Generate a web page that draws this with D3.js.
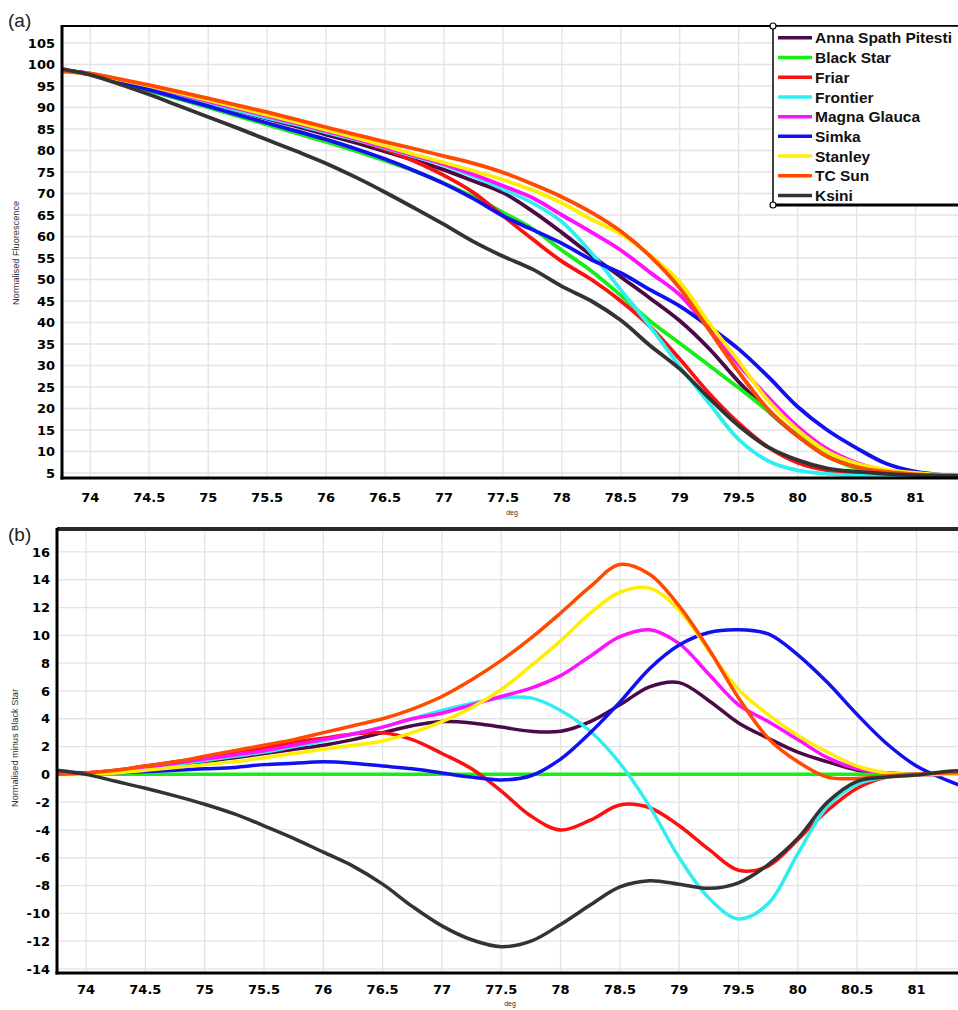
<!DOCTYPE html>
<html><head><meta charset="utf-8">
<script src="https://cdn.jsdelivr.net/npm/d3@7"></script>
<style>body{margin:0;background:#fff;} svg{display:block;}</style>
</head><body><svg id="c" width="958" height="1010"></svg>
<script>
// ---------- data ----------
const temps = [73.75,74,74.25,74.5,74.75,75,75.25,75.5,75.75,76,76.25,76.5,76.75,77,77.25,77.5,77.75,78,78.25,78.5,78.75,79,79.25,79.5,79.75,80,80.25,80.5,80.75,81,81.25,81.5];
const seriesNames = ["Anna Spath Pitesti","Black Star","Friar","Frontier","Magna Glauca","Simka","Stanley","TC Sun","Ksini"];
const seriesColors = ["#4a0a48","#16ee16","#ff1010","#30eef0","#ff10ff","#1010f0","#ffee00","#ff4a00","#333333"];

// panel (a) normalised fluorescence
const annaA     = [98.8,97.8,96.2,94.5,92.8,91.0,89.2,87.4,85.6,83.7,81.8,79.8,77.7,75.5,72.9,70.2,65.9,60.9,55.6,50.6,45.6,40.4,33.9,26.2,19.4,13.6,8.9,6.4,5.2,4.7,4.4,4.3];
const blackStarA= [98.7,97.7,95.9,93.9,92.0,90.0,88.0,86.0,84.0,82.0,79.9,77.6,75.2,72.4,69.2,65.6,61.8,56.8,52.0,46.3,40.3,35.2,30.0,24.8,19.4,13.8,9.0,6.1,4.9,4.5,4.3,4.3];
const friarA    = [98.5,97.8,96.2,94.6,92.9,91.1,89.4,87.8,86.2,84.4,82.5,80.3,77.5,74.2,70.2,64.8,59.4,54.2,50.0,45.0,39.0,31.5,23.5,16.6,11.0,7.4,5.6,4.9,4.6,4.4,4.3,4.3];
const frontierA = [98.5,97.8,96.2,94.5,92.8,91.0,89.3,87.6,86.0,84.2,82.5,80.6,78.6,76.6,74.0,71.0,67.8,63.4,56.2,47.6,39.0,29.8,21.2,12.8,7.8,5.6,4.8,4.4,4.3,4.3,4.3,4.3];
const magnaA    = [98.6,97.9,96.4,94.8,93.2,91.4,89.7,88.0,86.3,84.5,82.7,80.8,78.8,76.8,74.4,71.8,69.0,65.0,61.0,56.8,51.6,46.4,38.4,30.2,22.6,15.8,10.6,7.4,5.6,4.8,4.4,4.3];
const simkaA    = [98.7,97.8,96.0,94.1,92.2,90.3,88.3,86.4,84.5,82.6,80.4,78.0,75.3,72.3,68.8,64.8,61.6,58.4,54.6,51.5,47.6,43.8,39.0,33.8,27.4,20.4,15.0,10.8,7.2,5.3,4.5,4.3];
const stanleyA  = [98.3,97.9,96.5,95.0,93.4,91.7,90.0,88.3,86.6,84.8,83.0,81.1,79.1,77.2,75.3,73.2,70.8,67.8,64.0,60.6,55.6,49.4,39.8,31.0,21.8,15.0,10.0,7.2,5.8,5.0,4.5,4.3];
const tcSunA    = [98.4,97.9,96.6,95.2,93.7,92.1,90.5,88.9,87.2,85.4,83.7,82.0,80.4,78.7,77.0,74.9,72.2,69.2,65.6,61.2,55.4,48.0,38.2,28.5,19.8,13.6,8.8,6.4,5.3,4.7,4.4,4.3];
const ksiniA    = [99.0,97.6,95.4,93.0,90.4,87.8,85.2,82.5,79.8,77.0,73.8,70.3,66.6,62.8,58.8,55.4,52.4,48.4,45.0,40.5,34.6,29.2,22.4,16.0,11.0,8.0,6.1,5.3,4.8,4.5,4.4,4.3];

// panel (b) normalised minus Black Star
const annaB     = [0.1,0.1,0.2,0.4,0.7,0.9,1.2,1.5,1.8,2.1,2.5,3.0,3.5,3.8,3.7,3.4,3.1,3.1,3.8,5.0,6.3,6.6,5.3,3.7,2.6,1.6,0.9,0.3,0.1,0.0,0.0,0.1];
const blackStarB= [0,0,0,0,0,0,0,0,0,0,0,0,0,0,0,0,0,0,0,0,0,0,0,0,0,0,0,0,0,0,0,0];
const friarB    = [0.0,0.1,0.3,0.6,0.9,1.2,1.6,1.9,2.3,2.6,2.9,3.0,2.5,1.5,0.4,-1.2,-3.0,-4.0,-3.3,-2.2,-2.4,-3.7,-5.4,-6.9,-6.6,-4.7,-2.6,-1.0,-0.2,0.0,0.1,0.1];
const frontierB = [0.0,0.05,0.2,0.4,0.7,1.0,1.3,1.6,2.0,2.4,2.9,3.4,4.0,4.6,5.1,5.5,5.5,4.6,3.1,0.8,-2.3,-6.0,-8.9,-10.4,-9.3,-5.7,-2.3,-0.7,-0.2,0.0,0.1,0.2];
const magnaB    = [0.0,0.1,0.2,0.5,0.8,1.1,1.4,1.7,2.1,2.5,2.9,3.4,4.0,4.4,5.0,5.6,6.2,7.1,8.5,9.9,10.4,9.4,7.2,5.0,3.8,2.5,1.2,0.4,0.1,0.0,0.0,0.1];
const simkaB    = [0.2,0.1,0.1,0.2,0.3,0.4,0.5,0.7,0.8,0.9,0.8,0.6,0.4,0.1,-0.2,-0.4,-0.1,1.1,3.0,5.2,7.6,9.3,10.2,10.4,10.1,8.6,6.6,4.3,2.2,0.6,-0.4,-1.2];
const stanleyB  = [0.0,0.0,0.1,0.3,0.5,0.7,0.9,1.2,1.5,1.8,2.1,2.4,3.0,3.8,4.8,6.1,7.8,9.6,11.6,13.1,13.4,11.8,8.9,6.1,4.3,2.8,1.6,0.6,0.1,0.0,0.0,0.1];
const tcSunB    = [0.0,0.1,0.3,0.6,0.9,1.3,1.7,2.1,2.5,3.0,3.5,4.0,4.7,5.6,6.8,8.2,9.8,11.6,13.5,15.1,14.4,12.1,9.0,5.5,2.6,0.9,-0.2,-0.3,-0.1,0.0,0.1,0.1];
const ksiniB    = [0.3,0.0,-0.5,-1.0,-1.55,-2.15,-2.85,-3.7,-4.6,-5.6,-6.6,-7.9,-9.5,-10.9,-11.9,-12.4,-12.0,-10.8,-9.4,-8.1,-7.65,-7.9,-8.2,-7.8,-6.5,-4.6,-2.0,-0.5,-0.2,-0.05,0.2,0.3];

const xTickValues = [74,74.5,75,75.5,76,76.5,77,77.5,78,78.5,79,79.5,80,80.5,81];
const xTickLabels = ["74","74.5","75","75.5","76","76.5","77","77.5","78","78.5","79","79.5","80","80.5","81"];
const yTicksA = [5,10,15,20,25,30,35,40,45,50,55,60,65,70,75,80,85,90,95,100,105];
const yTicksB = [-14,-12,-10,-8,-6,-4,-2,0,2,4,6,8,10,12,14,16];

const seriesA = [annaA,blackStarA,friarA,frontierA,magnaA,simkaA,stanleyA,tcSunA,ksiniA];
const seriesB = [annaB,blackStarB,friarB,frontierB,magnaB,simkaB,stanleyB,tcSunB,ksiniB];

// ---------- drawing ----------
const svg = d3.select("#c");
const W = 958;
const tickFont = "'DejaVu Sans', Verdana, sans-serif";
const labelFont = "'Liberation Sans', Arial, sans-serif";

function drawPanel(cfg){
  const x = d3.scaleLinear().domain(cfg.xDomain).range([cfg.left, W]);
  const y = d3.scaleLinear().domain(cfg.yDomain).range([cfg.bottom, cfg.top]);
  const g = svg.append("g");
  const clipId = "clip"+cfg.id;
  svg.append("defs").append("clipPath").attr("id", clipId)
    .append("rect").attr("x", cfg.left).attr("y", cfg.top).attr("width", W-cfg.left).attr("height", cfg.bottom-cfg.top);

  // grid
  const grid = g.append("g").attr("clip-path", `url(#${clipId})`);
  grid.selectAll("line.v").data(xTickValues).join("line")
    .attr("x1", d=>x(d)).attr("x2", d=>x(d)).attr("y1", cfg.top).attr("y2", cfg.bottom)
    .attr("stroke", "#e3e3e3").attr("stroke-width", 1.3);
  grid.selectAll("line.h").data(cfg.yTicks).join("line")
    .attr("x1", cfg.left).attr("x2", W).attr("y1", d=>y(d)).attr("y2", d=>y(d))
    .attr("stroke", "#e3e3e3").attr("stroke-width", 1.3);

  // lines
  const line = d3.line().x((d,i)=>x(temps[i])).y(d=>y(d)).curve(d3.curveCatmullRom.alpha(0.5));
  const lg = g.append("g").attr("clip-path", `url(#${clipId})`);
  cfg.series.forEach((s,i)=>{
    lg.append("path").attr("d", line(s)).attr("fill","none")
      .attr("stroke", seriesColors[i]).attr("stroke-width", cfg.lw)
      .attr("stroke-linejoin","round").attr("stroke-linecap","round");
  });

  // frame
  g.append("line").attr("x1", cfg.left).attr("x2", W).attr("y1", cfg.top).attr("y2", cfg.top)
    .attr("stroke", cfg.topColor).attr("stroke-width", cfg.topWidth);
  g.append("line").attr("x1", cfg.left).attr("x2", cfg.left).attr("y1", cfg.top-1).attr("y2", cfg.bottom+1.5)
    .attr("stroke", "#000").attr("stroke-width", 3);
  g.append("line").attr("x1", cfg.left-1.5).attr("x2", W).attr("y1", cfg.bottom).attr("y2", cfg.bottom)
    .attr("stroke", "#000").attr("stroke-width", 3);

  // axes labels
  g.selectAll("text.yt").data(cfg.yTicks).join("text")
    .attr("x", cfg.left-7).attr("y", d=>y(d)).attr("dy","0.36em")
    .attr("text-anchor","end").attr("font-family", tickFont).attr("font-weight","bold")
    .attr("font-size", 13).attr("fill","#000").text(d=>d);
  g.selectAll("text.xt").data(xTickValues).join("text")
    .attr("x", d=>x(d)).attr("y", cfg.xLabelY)
    .attr("text-anchor","middle").attr("font-family", tickFont).attr("font-weight","bold")
    .attr("font-size", 13).attr("fill","#000").text((d,i)=>xTickLabels[i]);

  g.append("text").attr("x", cfg.degX).attr("y", cfg.degY).attr("text-anchor","middle")
    .attr("font-family", labelFont).attr("font-size", 7).attr("fill","#333").text("deg");
  g.append("text").attr("transform", `translate(${cfg.yLabelX},${cfg.yLabelY}) rotate(-90)`)
    .attr("text-anchor","middle").attr("font-family", labelFont).attr("font-size", 9.2)
    .attr("fill","#333").text(cfg.yLabel);
  svg.append("text").attr("x", 8).attr("y", cfg.tagY).attr("font-family", labelFont)
    .attr("font-size", 19).attr("fill","#222").text(cfg.tag);
  return {x,y,g};
}

drawPanel({id:"a", left:62, top:26, bottom:478, xDomain:[73.76,81.36], yDomain:[3.84,108.95],
  yTicks:yTicksA, series:seriesA, lw:3.8, topColor:"#000", topWidth:2,
  xLabelY:502, degX:512, degY:515, yLabelX:19, yLabelY:253, yLabel:"Normalised Fluorescence",
  tag:"(a)", tagY:27});

drawPanel({id:"b", left:57, top:529, bottom:973, xDomain:[73.755,81.35], yDomain:[-14.29,17.65],
  yTicks:yTicksB, series:seriesB, lw:3.5, topColor:"#2a2a2a", topWidth:4,
  xLabelY:994, degX:510, degY:1006, yLabelX:18, yLabelY:748, yLabel:"Normalised minus Black Star",
  tag:"(b)", tagY:541});

// ---------- legend ----------
const leg = svg.append("g");
const lx = 773, ly = 26, lh = 179;
leg.append("rect").attr("x", lx).attr("y", ly).attr("width", W-lx+5).attr("height", lh)
  .attr("fill","#fff").attr("stroke","#000").attr("stroke-width",1.5);
leg.append("line").attr("x1", lx).attr("x2", W).attr("y1", ly+lh).attr("y2", ly+lh)
  .attr("stroke","#000").attr("stroke-width",3);
[ly, ly+lh].forEach(cy=>{
  leg.append("circle").attr("cx", lx).attr("cy", cy).attr("r", 3)
    .attr("fill","#fff").attr("stroke","#000").attr("stroke-width",1.2);
});
const rowY = d3.scaleLinear().domain([0, seriesNames.length-1]).range([37.8, 195.5]);
seriesNames.forEach((name,i)=>{
  leg.append("line").attr("x1", 778).attr("x2", 812).attr("y1", rowY(i)).attr("y2", rowY(i))
    .attr("stroke", seriesColors[i]).attr("stroke-width", 3.5);
  leg.append("text").attr("x", 815).attr("y", rowY(i)).attr("dy","0.36em")
    .attr("font-family", labelFont).attr("font-weight","bold").attr("font-size", 15.5)
    .attr("fill","#111").text(name);
});
</script>
</body></html>
